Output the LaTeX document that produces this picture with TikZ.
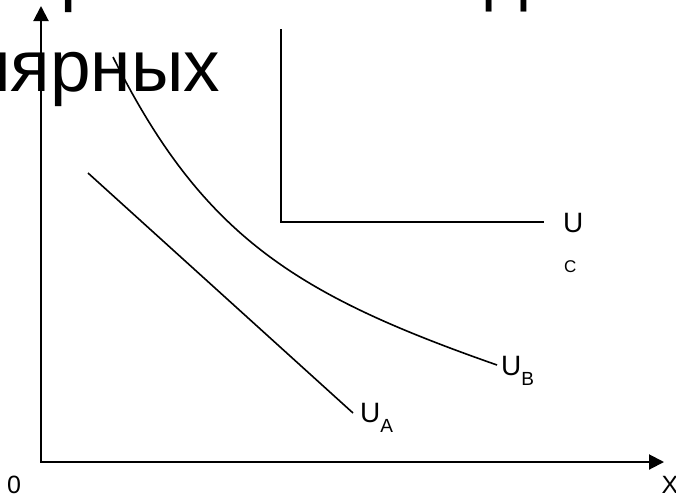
\documentclass[tikz,border=0pt]{standalone}
\usepackage{fontspec}
\setmainfont{Liberation Sans}
\usetikzlibrary{positioning,arrows.meta}
\newcommand{\usub}[1]{\raisebox{-10pt}{\fontsize{19}{19}\selectfont #1}}

\begin{document}
\begin{tikzpicture}[
  x=1pt,y=-1pt,
  axis/.style={line width=2pt,{Triangle[length=15pt,width=15pt]}-{Triangle[length=15pt,width=15pt]}},
  curve/.style={line width=1.6pt},
  big/.style={inner sep=0pt,anchor=base west,font=\fontsize{73}{90}\selectfont},
  ulabel/.style={inner sep=0pt,anchor=base west,font=\fontsize{28}{28}\selectfont},
  axlabel/.style={inner sep=0pt,font=\fontsize{25}{25}\selectfont}
]
\useasboundingbox (0,0) rectangle (676,498);
\clip (0,0) rectangle (676,498);
% slide text behind the graph
\node[big] (line1) at (21,-3) {принимает вид вза};
\node[big] (line2) at (-32,91) {лярных};
% axes
\coordinate (o) at (41,462);
\coordinate (ytop) at (41,6);
\coordinate (xend) at (664,462);
\draw[axis] (ytop) -- (o) -- (xend);
\node[axlabel] (zero) at (14,485) {0};
\node[axlabel] (xlab) at (670,485) {X};
% curves
\coordinate (astart) at (88,173);
\coordinate (aend) at (353,413);
\coordinate (bstart) at (113,57);
\coordinate (bend) at (497,365);
\coordinate (cstart) at (281,29);
\coordinate (cend) at (544,222);
\draw[curve] (astart) -- (aend);
\draw[curve] (bstart) .. controls (203,237) and (297,295) .. (bend);
\draw[curve] (cstart) |- (cend);
\node[ulabel] (ua) at (360,422) {U\usub{A}};
\node[ulabel] (ub) at (501,375) {U\usub{B}};
\node[ulabel] (uc) at (563,232) {U};
\node[inner sep=0pt,anchor=base west,font=\fontsize{17}{17}\selectfont] (ucsub) at (564,272) {C};
\end{tikzpicture}
\end{document}
